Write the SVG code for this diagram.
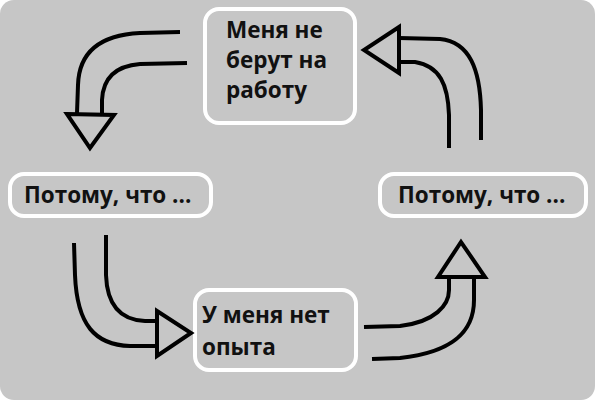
<svg xmlns="http://www.w3.org/2000/svg" width="595" height="400" viewBox="0 0 595 400">
<style>
.box{fill:#c6c6c6;stroke:#ffffff;stroke-width:4}
.t{font-family:"Open Sans","Liberation Sans",sans-serif;font-weight:700;font-size:22.5px;fill:#111111}
.ln{fill:none;stroke:#000000;stroke-width:4;stroke-linecap:butt}
.hd{fill:#c6c6c6;stroke:#000000;stroke-width:4;stroke-linejoin:miter}
</style>
<rect x="0" y="0" width="595" height="400" fill="#ffffff"/>
<rect x="0" y="0" width="595" height="400" rx="14" fill="#c6c6c6"/>
<g id="node-top">
<rect class="box" x="205" y="9" width="150" height="114" rx="14"/>
<text class="t" x="226" y="38">Меня не</text>
<text class="t" x="226" y="68">берут на</text>
<text class="t" x="226" y="98">работу</text>
</g>
<g id="node-left">
<rect class="box" x="10" y="174" width="201" height="42" rx="14"/>
<text class="t" x="24" y="203">Потому, что ...</text>
</g>
<g id="node-right">
<rect class="box" x="380" y="174" width="206" height="42" rx="14"/>
<text class="t" x="398" y="203">Потому, что ...</text>
</g>
<g id="node-bottom">
<rect class="box" x="195" y="290" width="161" height="80" rx="14"/>
<text class="t" x="202" y="323">У меня нет</text>
<text class="t" x="202" y="355">опыта</text>
</g>
<g id="connectors">
<path class="ln" d="M180,32 L140,33 C100,35 79,52 78,85 L77,113"/>
<path class="ln" d="M187,63 L140,64 C115,66 103,78 102,100 L102,113"/>
<polygon class="hd" points="67,114 114,115 90,148"/>
<path class="ln" d="M399,38 L440,39 C470,42 480,70 481,110 L481,140"/>
<path class="ln" d="M399,62 L415,62 C440,66 448,85 449,115 L449,148"/>
<polygon class="hd" points="399,27 399,73 364,50"/>
<path class="ln" d="M74,243 L75,275 C77,325 95,345 130,346 L157,346"/>
<path class="ln" d="M106,235 L106,275 C107,305 120,320 145,321 L157,321"/>
<polygon class="hd" points="157,311 157,356 191,333"/>
<path class="ln" d="M372,359 L400,358 C455,352 474,330 474,300 L474,277"/>
<path class="ln" d="M364,327 L400,326 C435,322 449,305 449,290 L449,277"/>
<polygon class="hd" points="438,277 485,277 461,242"/>
</g>
</svg>
